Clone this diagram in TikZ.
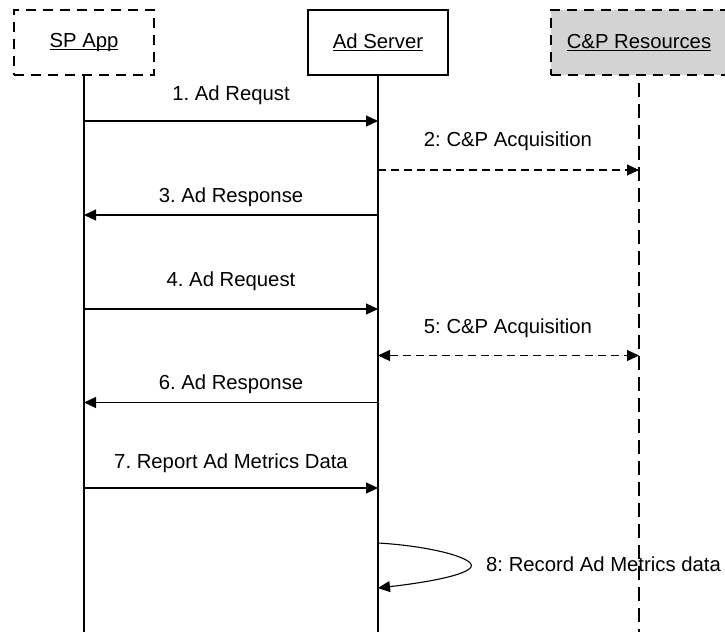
\documentclass[tikz,border=0pt]{standalone}
\usepackage{fontspec}
\setmainfont{Liberation Sans}
\usetikzlibrary{arrows.meta}
\definecolor{cpgray}{RGB}{211,211,211}
\newcommand\myul[1]{\setbox0\hbox{#1}\rlap{\rule[-2.4pt]{\wd0}{1.1pt}}\box0}
\frenchspacing
\begin{document}
\begin{tikzpicture}[x=1pt,y=-1pt,
  font=\fontsize{20.3}{24}\selectfont,
  actor/.style={draw, line width=1.4pt, minimum width=140pt, minimum height=65pt, inner sep=0pt},
  dashbox/.style={actor, dash pattern=on 10pt off 7pt},
  life/.style={line width=1.3pt},
  tip/.tip={Triangle[length=12pt,width=11pt]},
  msg/.style={line width=1.1pt, -tip},
  dmsg/.style={msg, dash pattern=on 8pt off 5pt},
  lab/.style={inner sep=0pt, anchor=base}]
\useasboundingbox (0,0) rectangle (725,632);
% actors
\node[dashbox] (sp) at (84,42.5) {\myul{SP App}};
\node[actor] (ad) at (378,42.5) {\myul{Ad Server}};
\node[dashbox, fill=cpgray, minimum width=176pt] (cp) at (639,42.5) {\myul{C\&P Resources}};
% lifeline ends
\coordinate (spb) at (84,632);
\coordinate (adb) at (378,632);
\coordinate (cpb) at (639,632);
\draw[life] (sp.south) -- (spb);
\draw[life] (ad.south) -- (adb);
\draw[life, dash pattern=on 14pt off 7pt, dash phase=14pt] (cp.south) -- (cpb);
% message levels
\coordinate (m1) at (0,121);
\coordinate (m2) at (0,170);
\coordinate (m3) at (0,215);
\coordinate (m4) at (0,309);
\coordinate (m5) at (0,355.5);
\coordinate (m6) at (0,402.5);
\coordinate (m7) at (0,488);
\coordinate (s1) at (0,543);
\coordinate (s2) at (0,588);
% messages
\draw[msg] (sp |- m1) -- (ad |- m1);
\draw[dmsg] (ad |- m2) -- (cp |- m2);
\draw[msg] (ad |- m3) -- (sp |- m3);
\draw[msg] (sp |- m4) -- (ad |- m4);
\draw[dmsg, tip-tip] (ad |- m5) -- (cp |- m5);
\draw[msg] (ad |- m6) -- (sp |- m6);
\draw[msg] (sp |- m7) -- (ad |- m7);
\draw[msg] (ad |- s1) .. controls (430,546) and (476,558) .. (471,567)
  .. controls (466,575) and (430,582) .. (ad |- s2);
% labels
\node[lab] (l1) at (231,100.7) {1. Ad Requst};
\node[lab] (l2) at (508,146.7) {2: C\&P Acquisition};
\node[lab] (l3) at (231,202.7) {3. Ad Response};
\node[lab] (l4) at (231,286.7) {4. Ad Request};
\node[lab] (l5) at (508,333) {5: C\&P Acquisition};
\node[lab] (l6) at (231,389.3) {6. Ad Response};
\node[lab] (l7) at (231,468) {7. Report Ad Metrics Data};
\node[lab, anchor=base west] (l8) at (486,571.7) {8: Record Ad Metrics data};
\end{tikzpicture}
\end{document}
